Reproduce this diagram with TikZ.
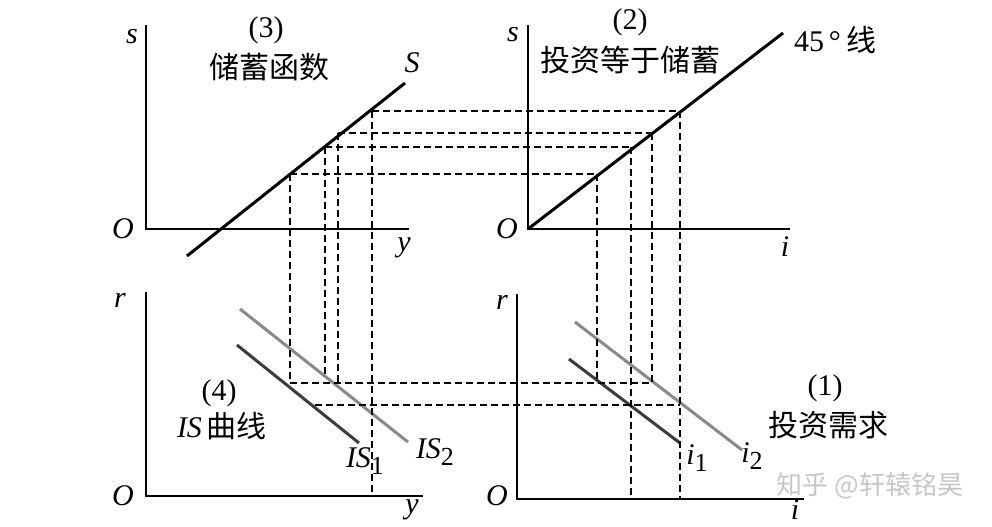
\documentclass[tikz,border=0pt]{standalone}
\usepackage{fontspec}
\setmainfont{Liberation Serif}
\newfontfamily\cjk{Noto Sans CJK SC}
\usepackage{tikz}
\usetikzlibrary{positioning}
\definecolor{CurveDark}{HTML}{3C3C3C}
\definecolor{CurveLight}{HTML}{8A8A8A}
\newcommand{\lowidx}[1]{\raisebox{-0.55ex}{\fontsize{13}{14}\selectfont #1}}

\begin{document}
\begin{tikzpicture}[x=0.5pt, y=-0.5pt,
  axis/.style={line width=1.3pt, black},
  curve/.style={line width=1.5pt, black},
  shiftA/.style={line width=1.5pt, CurveDark},
  shiftB/.style={line width=1.5pt, CurveLight},
  guide/.style={line width=0.85pt, dash pattern=on 3.5pt off 2pt},
  lbl/.style={inner sep=0pt, font=\fontsize{15}{17}\selectfont},
  var/.style={inner sep=0pt, font=\fontsize{15}{17}\selectfont\itshape},
]
\useasboundingbox (0,0) rectangle (992,526);
% four quadrants
\draw[axis] (146,25) -- (146,229) -- (409,229);
\draw[axis] (528,25) -- (528,229) -- (790,229);
\draw[axis] (146,292) -- (146,496) -- (423,496);
\draw[axis] (517,294) -- (517,499) -- (804,499);
\draw[curve] (187,256) -- (405,83);
\draw[curve] (528,229) -- (783,33);
\draw[shiftB] (240,309) -- (408,442);
\draw[shiftA] (237,345) -- (359,443);
\draw[shiftB] (575,322) -- (742,450);
\draw[shiftA] (569,359) -- (680,443);
% points on the curves
\coordinate (s1) at (290,174);
\coordinate (s2) at (325,147);
\coordinate (s3) at (338,133);
\coordinate (s4) at (372,111);
\coordinate (e1) at (597,174);
\coordinate (e2) at (631,147);
\coordinate (e3) at (652,133);
\coordinate (e4) at (680,111);
\coordinate (a1) at (290,383);
\coordinate (a2) at (325,375);
\coordinate (a3) at (338,383);
\coordinate (a4) at (372,496);
\coordinate (b1) at (597,383);
\coordinate (b2) at (631,499);
\coordinate (b3) at (652,383);
\coordinate (b4) at (680,499);
\coordinate (c1) at (315,405);
\coordinate (c2) at (680,405);
\draw[guide] (s1) -- (e1);
\draw[guide] (s2) -- (e2);
\draw[guide] (s3) -- (e3);
\draw[guide] (s4) -- (e4);
\draw[guide] (s1) -- (a1);
\draw[guide] (s2) -- (a2);
\draw[guide] (s3) -- (a3);
\draw[guide] (s4) -- (a4);
\draw[guide] (e1) -- (b1);
\draw[guide] (e2) -- (b2);
\draw[guide] (e3) -- (b3);
\draw[guide] (e4) -- (b4);
\draw[guide] (a1) -- (b3);
\draw[guide] (c1) -- (c2);
% labels
\node[var] (sA) at (132,37) {s};
\node[var] (oA) at (123,229) {O};
\node[var] (yA) at (404,248) {y};
\node[lbl] (n3) at (266,30) {(3)};
\node[lbl] (t3) at (269,67) {\cjk 储蓄函数};
\node[var] (sL) at (412,63) {S};
\node[var] (sB) at (513,35) {s};
\node[var] (oB) at (507,229) {O};
\node[var] (iB) at (785,247) {i};
\node[lbl] (n2) at (630,22) {(2)};
\node[lbl] (t2) at (630,60) {\cjk 投资等于储蓄};
\node[lbl] (t45) at (835,40) {45\,°\,{\cjk 线}};
\node[var] (rC) at (120,300) {r};
\node[var] (oC) at (123,496) {O};
\node[var] (yC) at (412,510) {y};
\node[lbl] (n4) at (219,393) {(4)};
\node[lbl] (t4) at (222,426) {\textit{IS}\,{\cjk 曲线}};
\node[lbl] (is1) at (365,461) {\textit{IS}\lowidx{1}};
\node[lbl] (is2) at (435,452) {\textit{IS}\lowidx{2}};
\node[var] (rD) at (502,302) {r};
\node[var] (oD) at (497,496) {O};
\node[var] (iD) at (795,510) {i};
\node[lbl] (n1) at (825,388) {(1)};
\node[lbl] (t1) at (828,425) {\cjk 投资需求};
\node[lbl] (i1) at (697,458) {\textit{i}\lowidx{1}};
\node[lbl] (i2) at (752,456) {\textit{i}\lowidx{2}};
\node[lbl, text=gray!45, font=\fontsize{13}{15}\selectfont] (mark) at (870,486) {\cjk 知乎 @轩辕铭昊};
\end{tikzpicture}
\end{document}
